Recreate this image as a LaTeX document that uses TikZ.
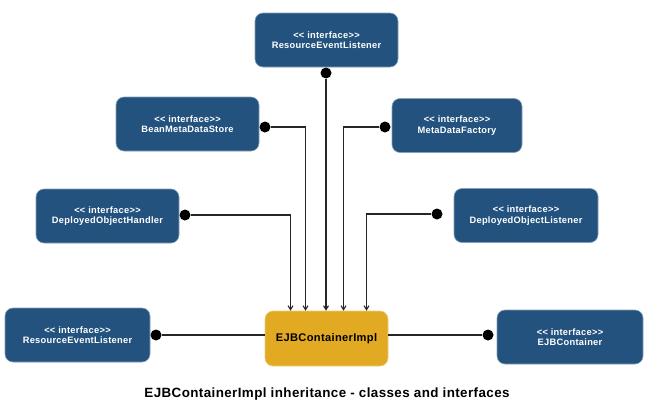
\documentclass[tikz,border=0pt]{standalone}
\usepackage{fontspec}
\newfontfamily\uifont{Liberation Sans}[LetterSpace=3]
\usetikzlibrary{arrows.meta}
\definecolor{ifblue}{HTML}{22527D}
\definecolor{implgold}{HTML}{E2AA22}

\begin{document}
\begin{tikzpicture}[x=1pt,y=-1pt,
  iface/.style={rounded corners=8pt, fill=ifblue, draw=ifblue!55!white, line width=0.6pt, text=white,
    font=\uifont\bfseries\fontsize{9.3}{10.5}\selectfont, align=center, minimum height=54pt, inner sep=0pt},
  impl/.style={rounded corners=8pt, fill=implgold, draw=implgold!60!white, line width=0.6pt,
    font=\uifont\bfseries\fontsize{11.1}{12}\selectfont, minimum width=123pt, minimum height=55pt, inner sep=0pt},
  dot/.style={circle, fill=black, inner sep=0pt, minimum size=11pt},
  link/.style={black!85, line width=1.1pt},
  inherit/.style={link, -{Straight Barb[length=4pt,width=5pt]}}]
\useasboundingbox (0,0) rectangle (650,415);
\node[iface, minimum width=143pt] (rel-top) at (326.5,40) {<< interface>>\\ResourceEventListener};
\node[iface, minimum width=143pt] (bean) at (187.5,124) {<< interface>>\\BeanMetaDataStore};
\node[iface, minimum width=130pt] (mdf) at (457,125.5) {<< interface>>\\MetaDataFactory};
\node[iface, minimum width=143pt] (doh) at (107.5,216) {<< interface>>\\DeployedObjectHandler};
\node[iface, minimum width=144pt] (dol) at (526,215.5) {<< interface>>\\DeployedObjectListener};
\node[iface, minimum width=145pt] (rel-left) at (77.5,335) {<< interface>>\\ResourceEventListener};
\node[iface, minimum width=146pt] (ejbc) at (570,337) {<< interface>>\\EJBContainer};
\node[impl] (impl) at (326.5,338.5) {EJBContainerImpl};

\node[dot] (d-top) at (326,73) {};
\node[dot] (d-bean) at (265,127) {};
\node[dot] (d-mdf) at (385,127) {};
\node[dot] (d-doh) at (185,215) {};
\node[dot] (d-dol) at (437,214) {};
\node[dot] (d-rel) at (156,335) {};
\node[dot] (d-ejbc) at (488,335) {};

\draw[inherit] (d-doh) -| ([xshift=-36pt]impl.north);
\draw[inherit] (d-bean) -| ([xshift=-21pt]impl.north);
\draw[inherit] (d-top) -- (d-top |- impl.north);
\draw[inherit] (d-mdf) -| ([xshift=17pt]impl.north);
\draw[inherit] (d-dol) -| ([xshift=40pt]impl.north);
\draw[link] (d-rel) -- (d-rel -| impl.west);
\draw[link] (impl.east |- d-ejbc) -- (d-ejbc);

\node[font=\uifont\bfseries\fontsize{13.4}{15}\selectfont] (caption) at (327,394) {EJBContainerImpl inheritance - classes and interfaces};
\end{tikzpicture}
\end{document}
